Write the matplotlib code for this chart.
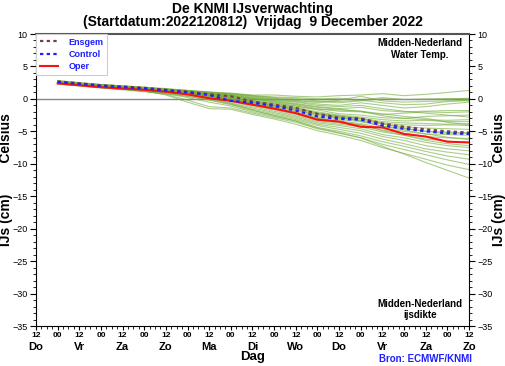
import numpy as np
import matplotlib
matplotlib.use('Agg')
import matplotlib.pyplot as plt
from matplotlib.ticker import MultipleLocator

plt.rcParams['font.family'] = ['Liberation Sans', 'DejaVu Sans']

# hours since Do 12 UTC
hours = [12, 24, 36, 48, 60, 72, 84, 96, 108, 120, 132, 144, 156, 168, 180, 192, 204, 216, 228, 240]
tick_labels = ['12', '00'] * 10 + ['12']
day_names = ['Do', 'Vr', 'Za', 'Zo', 'Ma', 'Di', 'Wo', 'Do', 'Vr', 'Za', 'Zo']

oper = [2.4, 2.1, 1.8, 1.6, 1.4, 1.1, 0.7, 0.1, -0.3, -0.9, -1.5, -2.2, -3.2, -3.5, -4.3, -4.4, -5.4, -5.8, -6.6, -6.7]
ensgem = [2.7, 2.4, 2.1, 1.9, 1.7, 1.4, 1.1, 0.7, 0.4, -0.4, -0.9, -1.4, -2.3, -2.9, -3.0, -3.8, -4.3, -4.7, -5.0, -5.2]
control = [2.6, 2.3, 2.0, 1.8, 1.6, 1.3, 1.0, 0.6, -0.3, -0.6, -1.1, -1.8, -2.7, -3.1, -3.2, -4.1, -4.6, -5.0, -5.3, -5.4]

members = [
    [2.7, 2.4, 2.1, 1.9, 1.7, 1.5, 1.3, 1.0, 0.9, 0.6, 0.6, 0.4, 0.3, 0.5, 0.6, 0.8, 0.5, 0.7, 1.0, 1.3],
    [2.8, 2.5, 2.2, 2.0, 1.8, 1.6, 1.3, 1.1, 0.8, 0.5, 0.3, 0.2, 0.0, 0.1, -0.2, 0.2, -0.1, 0.0, 0.0, 0.1],
    [2.6, 2.4, 2.1, 1.9, 1.7, 1.4, 1.2, 0.9, 0.7, 0.4, 0.1, -0.2, -0.6, -0.2, 0.4, -0.3, -0.5, -0.4, -0.3, -0.3],
    [2.7, 2.4, 2.2, 2.0, 1.7, 1.5, 1.2, 1.0, 0.6, 0.2, -0.1, -0.4, -0.8, -1.0, -0.6, -1.0, -1.4, -1.2, -0.8, -0.5],
    [2.5, 2.3, 2.0, 1.8, 1.6, 1.3, 1.1, 0.8, 0.5, 0.1, -0.3, -0.7, -1.2, -1.5, -1.3, -1.8, -2.0, -1.9, -1.8, -1.8],
    [2.6, 2.3, 2.1, 1.8, 1.6, 1.4, 1.1, 0.8, 0.4, 0.0, -0.5, -0.9, -1.5, -1.9, -2.0, -2.4, -2.2, -2.0, -2.1, -2.0],
    [2.7, 2.4, 2.1, 1.9, 1.6, 1.4, 1.1, 0.7, 0.3, -0.2, -0.6, -1.1, -1.7, -2.3, -2.5, -2.9, -3.0, -2.7, -2.6, -2.5],
    [2.5, 2.2, 2.0, 1.7, 1.5, 1.2, 1.0, 0.6, 0.3, -0.3, -0.8, -1.3, -2.0, -2.5, -2.8, -3.2, -3.4, -3.3, -3.5, -3.5],
    [2.6, 2.3, 2.0, 1.8, 1.5, 1.3, 1.0, 0.6, 0.2, -0.4, -0.9, -1.4, -2.2, -2.7, -3.0, -3.5, -3.7, -3.8, -3.9, -3.8],
    [2.7, 2.4, 2.1, 1.8, 1.6, 1.3, 0.9, 0.5, 0.1, -0.5, -1.0, -1.6, -2.4, -2.9, -3.1, -3.7, -4.0, -4.1, -4.0, -4.1],
    [2.5, 2.3, 2.0, 1.8, 1.5, 1.2, 0.9, 0.5, 0.0, -0.6, -1.2, -1.8, -2.6, -3.0, -3.3, -3.9, -4.3, -4.5, -4.6, -4.7],
    [2.6, 2.3, 2.0, 1.7, 1.5, 1.2, 0.9, 0.4, -0.1, -0.7, -1.3, -2.0, -2.8, -3.2, -3.5, -4.2, -4.6, -5.0, -5.1, -5.2],
    [2.6, 2.3, 2.0, 1.7, 1.4, 1.1, 0.8, 0.4, -0.2, -0.8, -1.5, -2.2, -3.0, -3.4, -3.8, -4.5, -5.0, -5.4, -5.5, -5.6],
    [2.5, 2.2, 1.9, 1.7, 1.4, 1.1, 0.7, 0.3, -0.3, -1.0, -1.7, -2.4, -3.3, -3.7, -4.0, -4.8, -5.3, -5.8, -6.0, -6.1],
    [2.4, 2.2, 1.9, 1.6, 1.4, 1.1, 0.7, 0.2, -0.4, -1.2, -1.9, -2.6, -3.5, -3.9, -4.3, -5.1, -5.6, -6.2, -6.5, -6.8],
    [2.5, 2.2, 1.9, 1.6, 1.3, 1.0, 0.6, 0.1, -0.6, -1.4, -2.1, -2.8, -3.7, -4.1, -4.6, -5.5, -6.0, -6.7, -7.2, -7.5],
    [2.4, 2.1, 1.8, 1.6, 1.3, 1.0, 0.6, 0.0, -0.7, -1.6, -2.3, -3.0, -3.9, -4.4, -4.9, -5.8, -6.4, -7.2, -7.7, -8.0],
    [2.4, 2.1, 1.8, 1.5, 1.3, 0.9, 0.4, -0.2, -0.9, -1.8, -2.5, -3.2, -4.1, -4.7, -5.3, -6.2, -6.9, -7.7, -8.2, -8.6],
    [2.3, 2.1, 1.8, 1.5, 1.2, 0.8, 0.2, -0.5, -1.1, -2.0, -2.7, -3.4, -4.4, -5.0, -5.7, -6.6, -7.3, -8.1, -8.8, -9.3],
    [2.3, 2.0, 1.7, 1.5, 1.2, 0.7, -0.2, -1.2, -1.4, -2.2, -2.9, -3.6, -4.6, -5.3, -6.0, -7.0, -7.8, -8.6, -9.4, -10.1],
    [2.4, 2.1, 1.8, 1.5, 1.2, 0.6, -0.5, -1.5, -1.6, -2.4, -3.1, -3.9, -4.9, -5.6, -6.4, -7.5, -8.4, -9.3, -10.2, -10.9],
    [2.3, 2.0, 1.7, 1.4, 1.1, 0.8, 0.4, -0.1, -0.8, -1.7, -2.6, -3.4, -4.5, -5.2, -6.0, -7.3, -8.5, -9.8, -11.0, -12.2],
    [2.6, 2.3, 2.1, 1.8, 1.6, 1.3, 1.0, 0.6, 0.2, -0.3, -0.7, -1.1, -1.6, -1.7, -1.9, -2.6, -3.0, -3.2, -3.3, -3.2],
    [2.7, 2.4, 2.1, 1.9, 1.6, 1.4, 1.1, 0.8, 0.5, 0.1, -0.2, -0.5, -1.0, -1.2, -1.0, -1.5, -1.9, -2.2, -2.5, -2.8],
    [2.5, 2.3, 2.0, 1.7, 1.5, 1.2, 0.9, 0.5, 0.0, -0.6, -1.1, -1.7, -2.4, -2.8, -3.4, -4.2, -4.8, -5.4, -5.9, -6.3],
    [2.6, 2.3, 2.0, 1.8, 1.5, 1.2, 0.9, 0.5, 0.1, -0.5, -1.0, -1.5, -2.2, -2.6, -3.0, -3.8, -4.5, -5.0, -5.3, -5.3],
    [2.8, 2.5, 2.2, 2.0, 1.8, 1.5, 1.3, 1.0, 0.8, 0.5, 0.2, 0.0, -0.3, -0.4, -0.2, -0.6, -0.9, -0.8, -0.4, -0.2],
    [2.7, 2.4, 2.2, 1.9, 1.7, 1.5, 1.2, 0.9, 0.7, 0.3, 0.0, -0.3, -0.4, -0.6, -0.3, 0.0, -0.1, -0.1, 0.0, 0.0],
    [2.6, 2.4, 2.1, 1.9, 1.7, 1.4, 1.1, 0.8, 0.5, 0.0, -0.4, -0.8, -1.3, -1.6, -1.9, -2.3, -2.7, -3.0, -3.6, -4.0],
    [2.5, 2.2, 2.0, 1.7, 1.5, 1.2, 0.8, 0.4, -0.1, -0.8, -1.4, -2.1, -3.0, -3.5, -4.0, -4.9, -5.6, -6.4, -6.9, -7.2],
]


def main():
    fig = plt.figure(figsize=(5.06, 3.66), dpi=100)
    ax = fig.add_axes([36 / 506, 1 - 326 / 366, 433 / 506, 292 / 366])

    ax.axhline(0, color='#888888', lw=1.0, zorder=1)

    for m in members:
        ax.plot(hours, m, color='#74ad3c', lw=0.8, alpha=0.6, zorder=2)

    ax.plot(hours, ensgem, color='#7a4040', lw=1.6, ls=(0, (1.5, 1.5)), label='Ensgem', zorder=4)
    ax.plot(hours, control, color='#1f1fff', lw=1.6, ls=(0, (1.5, 1.5)), label='Control', zorder=4)
    ax.plot(hours, oper, color='#ff1010', lw=1.5, label='Oper', zorder=3)

    ax.set_xlim(0, 240)
    ax.set_ylim(-35, 10)
    ax.set_xticks(range(0, 241, 12))
    ax.set_xticklabels(tick_labels, fontsize=6, fontweight='bold')
    ax.xaxis.set_minor_locator(MultipleLocator(3))
    ax.yaxis.set_major_locator(MultipleLocator(5))
    ax.yaxis.set_minor_locator(MultipleLocator(1))
    ax.tick_params(axis='y', which='both', left=True, right=True, labelleft=True, labelright=True,
                   labelsize=6.5, direction='out')
    ax.tick_params(axis='y', which='major', length=4, width=0.8, pad=2)
    ax.tick_params(axis='x', which='major', length=3, width=0.8, pad=1.5)
    ax.tick_params(axis='both', which='minor', length=2, width=0.6)
    ax.tick_params(axis='x', which='both', top=False)
    ax.spines['top'].set_color('#555555')
    ax.spines['top'].set_linewidth(1.5)

    for i, d in enumerate(day_names):
        ax.text(i * 24, -0.071, d, transform=ax.get_xaxis_transform(), ha='center', va='center',
                fontsize=8, fontweight='bold')
    ax.text(120, -0.107, 'Dag', transform=ax.get_xaxis_transform(), ha='center', va='center',
            fontsize=9.5, fontweight='bold')

    fig.text(0.5, 0.995, 'De KNMI IJsverwachting\n(Startdatum:2022120812)  Vrijdag  9 December 2022',
             ha='center', va='top', fontsize=10, fontweight='bold', linespacing=0.95)

    ylab = 'IJs (cm)        Celsius'
    fig.text(6 / 506, 1 - 180 / 366, ylab, rotation=90, ha='center', va='center', fontsize=10, fontweight='bold')
    fig.text(499 / 506, 1 - 180 / 366, ylab, rotation=90, ha='center', va='center', fontsize=10, fontweight='bold')

    ax.text(0.985, 0.985, 'Midden-Nederland\nWater Temp.', transform=ax.transAxes, ha='right', va='top',
            fontsize=7, fontweight='bold', multialignment='center')
    ax.text(0.985, 0.02, 'Midden-Nederland\nijsdikte', transform=ax.transAxes, ha='right', va='bottom',
            fontsize=7, fontweight='bold', multialignment='center')

    fig.text(472 / 506, 1 - 359 / 366, 'Bron: ECMWF/KNMI', ha='right', va='center', color='#1f1fff',
             fontsize=7, fontweight='bold')

    leg = ax.legend(loc='upper left', borderaxespad=0, fancybox=False, framealpha=1,
                    edgecolor='#cccccc', handlelength=2.0, handletextpad=1.2, labelspacing=0.35,
                    prop={'size': 6.5, 'weight': 'bold'})
    for t in leg.get_texts():
        t.set_color('#1f1fff')
    leg.get_frame().set_linewidth(0.8)

    fig.savefig('out.png', dpi=100)


if __name__ == '__main__':
    main()
